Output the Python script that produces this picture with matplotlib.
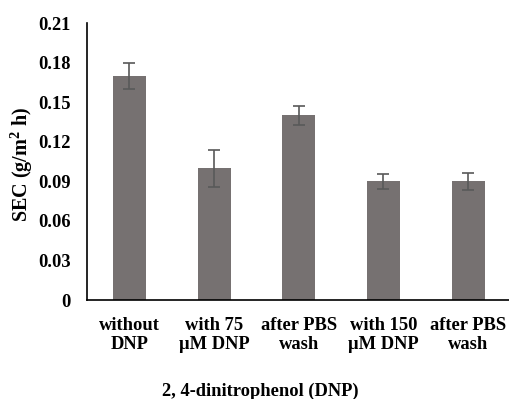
import matplotlib
matplotlib.use("Agg")
import matplotlib.pyplot as plt
import numpy as np

categories = ["without\nDNP", "with 75\nµM DNP", "after PBS\nwash", "with 150\nµM DNP", "after PBS\nwash"]
sec_values = [0.170, 0.100, 0.140, 0.090, 0.090]
sec_errors = [0.010, 0.014, 0.007, 0.0055, 0.0065]
y_ticks = [0, 0.03, 0.06, 0.09, 0.12, 0.15, 0.18, 0.21]
y_tick_labels = ["0", "0.03", "0.06", "0.09", "0.12", "0.15", "0.18", "0.21"]

plt.rcParams['font.family'] = ['Liberation Serif', 'DejaVu Serif']
plt.rcParams['font.weight'] = 'bold'
plt.rcParams['mathtext.fontset'] = 'custom'
plt.rcParams['mathtext.rm'] = 'Liberation Serif:bold'
plt.rcParams['mathtext.bf'] = 'Liberation Serif:bold'

fig = plt.figure(figsize=(5.09, 3.99), dpi=100)
ax = fig.add_axes([0.171, 0.248, 0.832, 0.694])

x = np.arange(len(categories))
ax.bar(x, sec_values, width=0.39, color='#767171', zorder=2)
ax.errorbar(x, sec_values, yerr=sec_errors, fmt='none', ecolor='#595959',
            elinewidth=1.2, capsize=4, capthick=1.2, zorder=3)

ax.set_xlim(-0.5, len(categories) - 0.5)
ax.set_ylim(0, 0.21)
ax.set_yticks(y_ticks)
ax.set_yticklabels(y_tick_labels, fontsize=13.3, fontweight='bold')
ax.set_xticks(x)
ax.set_xticklabels(categories, fontsize=13.3, fontweight='bold', linespacing=1.2)
ax.tick_params(axis='both', length=0)
ax.tick_params(axis='y', pad=11.5)
ax.tick_params(axis='x', pad=12)

ax.spines['top'].set_visible(False)
ax.spines['right'].set_visible(False)
ax.spines['left'].set_linewidth(1.2)
ax.spines['bottom'].set_linewidth(1.2)

ax.set_ylabel("SEC (g/m$^\\mathregular{2}$ h)", fontsize=14.5, fontweight='bold')
ax.yaxis.set_label_coords(-0.123, 0.49)
ax.set_xlabel("2, 4-dinitrophenol (DNP)", fontsize=13.3, fontweight='bold')
ax.xaxis.set_label_coords(0.408, -0.298)

fig.savefig("out.png", dpi=100)
